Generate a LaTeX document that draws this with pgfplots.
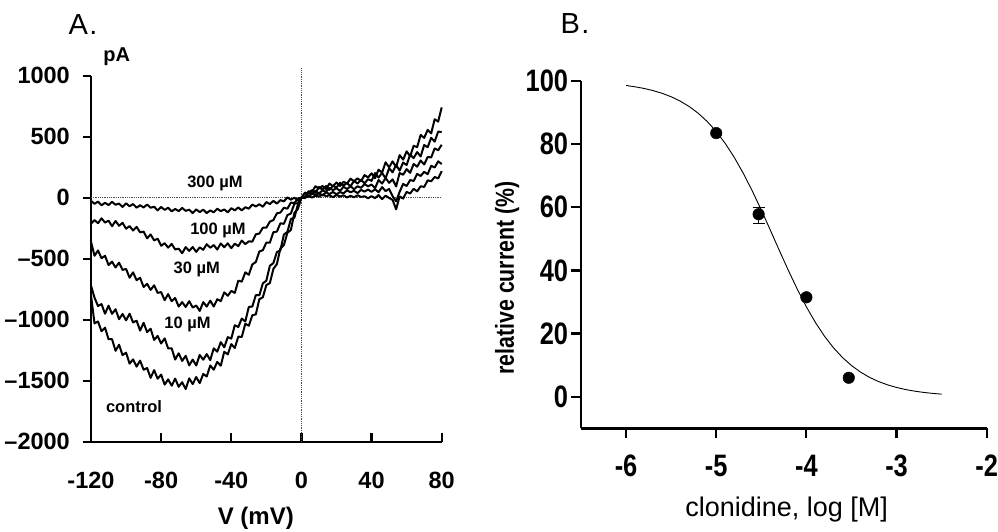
\documentclass[border=0pt]{standalone}
\usepackage{fontspec}
\setmainfont{Liberation Sans}
\newfontfamily\narrowfont[FakeStretch=0.82]{Liberation Sans}
\usepackage{pgfplots}
\pgfplotsset{compat=1.18}

\begin{document}
\begin{tikzpicture}
\path[use as bounding box] (0,0) rectangle (998pt,531pt);

\node[font=\fontsize{29}{29}\selectfont] at (83pt,506pt) {A\kern1.5pt.};
\node[font=\fontsize{29}{29}\selectfont] at (575pt,507.7pt) {B\kern1.5pt.};

% panel A: I-V traces
\begin{axis}[
  at={(91pt,89.3pt)}, anchor=south west,
  scale only axis, width=350.7pt, height=366pt,
  xmin=-120, xmax=80, ymin=-2000, ymax=1000,
  axis lines*=left,
  axis line style={line width=2.4pt},
  tick align=inside,
  major tick length=8.5pt,
  every tick/.style={black, line width=2.2pt},
  ytick style={xshift=-8.5pt},
  xtick={-120,-80,-40,0,40,80},
  xticklabels={-120,-80,-40,0,40,80},
  ytick={-2000,-1500,-1000,-500,0,500,1000},
  yticklabels={–2000,–1500,–1000,–500,0,500,1000},
  tick label style={font=\fontsize{23.5}{23.5}\selectfont\bfseries, inner sep=0pt},
  xticklabel style={anchor=north, yshift=-30pt},
  yticklabel style={anchor=east, xshift=-21pt},
  clip=false,
]
\addplot[densely dotted, line width=0.8pt, black!70] coordinates {(-120,0) (80,0)};
\addplot[densely dotted, line width=0.8pt, black!70] coordinates {(0,-2000) (0,1068)};

% control
\addplot[black, line width=2pt, line join=round] coordinates {
(-120,-800)(-118,-1030)(-116,-1015)(-114,-1095)(-112,-1065)(-110,-1160)(-108,-1160)(-106,-1255)(-104,-1205)(-102,-1290)
(-100,-1270)(-98,-1360)(-96,-1325)(-94,-1385)(-92,-1335)(-90,-1410)(-88,-1396)(-86,-1477)(-84,-1413)(-82,-1484)
(-80,-1450)(-78,-1532)(-76,-1489)(-74,-1541)(-72,-1483)(-70,-1550)(-68,-1512)(-66,-1569)(-64,-1481)(-62,-1528)
(-60,-1470)(-58,-1520)(-56,-1445)(-54,-1465)(-52,-1375)(-50,-1410)(-48,-1346)(-46,-1377)(-44,-1263)(-42,-1284)
(-40,-1200)(-38,-1232)(-36,-1139)(-34,-1141)(-32,-1033)(-30,-1050)(-28,-964)(-26,-956)(-24,-832)(-22,-816)
(-20,-716)(-18,-700)(-16,-584)(-14,-544)(-12,-416)(-10,-388)(-8,-288)(-6,-264)(-4,-124)(-2,-92)
(0,0)(2,5)(4,53)(6,48)(8,94)(10,75)(12,96)(14,70)(16,116)(18,94)
(20,125)(22,96)(24,130)(26,116)(28,156)(30,135)(32,159)(34,136)(36,185)(38,166)
(40,200)(42,160)(44,230)(46,205)(48,290)(50,250)(52,298)(54,251)(56,349)(58,312)
(60,380)(62,340)(64,425)(66,415)(68,515)(70,490)(72,556)(74,527)(76,643)(78,624)(80,740)};

% 10 uM
\addplot[black, line width=2pt, line join=round] coordinates {
(-120,-720)(-118,-819)(-116,-888)(-114,-872)(-112,-951)(-110,-885)(-108,-952)(-106,-914)(-104,-996)(-102,-953)
(-100,-1005)(-98,-951)(-96,-1022)(-94,-1008)(-92,-1089)(-90,-1025)(-88,-1102)(-86,-1074)(-84,-1166)(-82,-1133)
(-80,-1195)(-78,-1153)(-76,-1236)(-74,-1234)(-72,-1327)(-70,-1275)(-68,-1338)(-66,-1296)(-64,-1374)(-62,-1327)
(-60,-1375)(-58,-1289)(-56,-1328)(-54,-1282)(-52,-1331)(-50,-1235)(-48,-1262)(-46,-1184)(-44,-1226)(-42,-1143)
(-40,-1155)(-38,-1045)(-36,-1060)(-34,-990)(-32,-1015)(-30,-895)(-28,-892)(-26,-798)(-24,-800)(-22,-702)
(-20,-680)(-18,-558)(-16,-536)(-14,-446)(-12,-432)(-10,-302)(-8,-280)(-6,-174)(-4,-164)(-2,-54)
(0,0)(2,42)(4,33)(6,62)(8,40)(10,88)(12,65)(14,95)(16,65)(18,98)
(20,83)(22,122)(24,100)(26,120)(28,93)(30,138)(32,116)(34,147)(36,118)(38,152)
(40,138)(42,202)(44,165)(46,204)(48,158)(50,242)(52,208)(54,269)(56,222)(58,288)
(60,268)(62,352)(64,325)(66,374)(68,338)(70,432)(72,414)(74,491)(76,460)(78,542)(80,538)};

% 30 uM
\addplot[black, line width=2pt, line join=round] coordinates {
(-120,-360)(-118,-476)(-116,-432)(-114,-496)(-112,-476)(-110,-552)(-108,-524)(-106,-572)(-104,-532)(-102,-592)
(-100,-584)(-98,-656)(-96,-612)(-94,-676)(-92,-656)(-90,-732)(-88,-706)(-86,-756)(-84,-718)(-82,-780)
(-80,-774)(-78,-840)(-76,-790)(-74,-848)(-72,-822)(-70,-892)(-68,-856)(-66,-896)(-64,-848)(-62,-900)
(-60,-884)(-58,-928)(-56,-856)(-54,-892)(-52,-844)(-50,-892)(-48,-832)(-46,-848)(-44,-776)(-42,-804)
(-40,-764)(-38,-780)(-36,-680)(-34,-688)(-32,-612)(-30,-632)(-28,-547)(-26,-527)(-24,-441)(-22,-430)
(-20,-368)(-18,-369)(-16,-283)(-14,-278)(-12,-210)(-10,-214)(-8,-143)(-6,-129)(-4,-49)(-2,-44)
(0,0)(2,-3)(4,41)(6,29)(8,56)(10,34)(12,60)(14,48)(16,80)(18,62)
(20,78)(22,55)(24,90)(26,71)(28,94)(30,69)(32,94)(34,81)(36,112)(38,93)
(40,108)(42,78)(44,145)(46,116)(48,161)(50,122)(52,150)(54,92)(56,202)(58,188)
(60,234)(62,204)(64,277)(66,254)(68,305)(70,272)(72,334)(74,330)(76,404)(78,389)(80,434)};

% 100 uM
\addplot[black, line width=2pt, line join=round] coordinates {
(-120,-214)(-118,-183)(-116,-209)(-114,-169)(-112,-204)(-110,-188)(-108,-233)(-106,-191)(-104,-230)(-102,-206)
(-100,-254)(-98,-233)(-96,-269)(-94,-239)(-92,-284)(-90,-278)(-88,-333)(-86,-301)(-84,-350)(-82,-336)
(-80,-394)(-78,-373)(-76,-409)(-74,-379)(-72,-424)(-70,-418)(-68,-455)(-66,-405)(-64,-436)(-62,-404)
(-60,-444)(-58,-407)(-56,-427)(-54,-381)(-52,-410)(-50,-388)(-48,-425)(-46,-375)(-44,-406)(-42,-374)
(-40,-414)(-38,-377)(-36,-397)(-34,-351)(-32,-380)(-30,-358)(-28,-360)(-26,-300)(-24,-294)(-22,-246)
(-20,-246)(-18,-196)(-16,-184)(-14,-128)(-12,-122)(-10,-82)(-8,-90)(-6,-40)(-4,-44)(-2,-6)
(0,0)(2,12)(4,7)(6,35)(8,23)(10,36)(12,18)(14,44)(16,30)(18,47)
(20,28)(22,46)(24,36)(26,60)(28,45)(30,56)(32,38)(34,64)(36,50)(38,67)
(40,48)(42,69)(44,45)(46,87)(48,54)(50,72)(52,13)(54,-30)(56,48)(58,113)
(60,96)(62,145)(64,137)(66,195)(68,178)(70,212)(72,193)(74,261)(76,248)(78,298)(80,276)};

% 300 uM
\addplot[black, line width=2pt, line join=round] coordinates {
(-120,-26)(-118,-50)(-116,-32)(-114,-62)(-112,-42)(-110,-60)(-108,-34)(-106,-58)(-104,-48)(-102,-76)
(-100,-46)(-98,-70)(-96,-52)(-94,-82)(-92,-62)(-90,-80)(-88,-56)(-86,-82)(-84,-74)(-82,-104)
(-80,-76)(-78,-100)(-76,-82)(-74,-112)(-72,-92)(-70,-110)(-68,-84)(-66,-108)(-64,-98)(-62,-126)
(-60,-96)(-58,-118)(-56,-98)(-54,-126)(-52,-104)(-50,-120)(-48,-90)(-46,-110)(-44,-96)(-42,-120)
(-40,-86)(-38,-104)(-36,-80)(-34,-104)(-32,-78)(-30,-90)(-28,-56)(-26,-72)(-24,-54)(-22,-74)
(-20,-36)(-18,-52)(-16,-26)(-14,-48)(-12,-20)(-10,-30)(-8,2)(-6,-16)(-4,0)(-2,-22)
(0,0)(2,-1)(4,15)(6,1)(8,17)(10,9)(12,26)(14,13)(16,20)(18,4)
(20,23)(22,9)(24,20)(26,2)(28,15)(30,4)(32,20)(34,6)(36,12)(38,-5)
(40,13)(42,-4)(44,22)(46,-12)(48,17)(50,-2)(52,-18)(54,-95)(56,10)(58,-7)
(60,48)(62,34)(64,73)(66,52)(68,94)(70,88)(72,142)(74,135)(76,170)(78,158)(80,218)};

\node[font=\fontsize{16.5}{16.5}\selectfont\bfseries] at (axis cs:-49.3,119) {300 µM};
\node[font=\fontsize{16.5}{16.5}\selectfont\bfseries] at (axis cs:-47.6,-265) {100 µM};
\node[font=\fontsize{16.5}{16.5}\selectfont\bfseries] at (axis cs:-59.7,-590) {30 µM};
\node[font=\fontsize{16.5}{16.5}\selectfont\bfseries] at (axis cs:-65,-1041) {10 µM};
\node[font=\fontsize{16.5}{16.5}\selectfont\bfseries] at (axis cs:-95.5,-1714) {control};
\node[font=\fontsize{20}{20}\selectfont\bfseries] at (axis cs:-105.3,1158) {pA};
\node[font=\fontsize{24}{24}\selectfont\bfseries] at (axis description cs:0.47,-0.209) {V (mV)};
\end{axis}

% panel B: concentration-response
\begin{axis}[
  at={(581pt,102.7pt)}, anchor=south west,
  scale only axis, width=405.7pt, height=347.3pt,
  xmin=-6.5, xmax=-2, ymin=-10, ymax=100,
  axis lines*=left,
  axis line style={line width=2.4pt},
  tick align=inside,
  major tick length=10pt,
  every tick/.style={black, line width=2.2pt},
  xtick style={yshift=-10pt},
  ytick style={xshift=-10pt},
  xtick={-6,-5,-4,-3,-2},
  xticklabels={-6,-5,-4,-3,-2},
  ytick={0,20,40,60,80,100},
  yticklabels={0,20,40,60,80,100},
  tick label style={font=\narrowfont\bfseries\fontsize{31}{31}\selectfont, inner sep=0pt},
  xticklabel style={anchor=north, yshift=-26.7pt},
  yticklabel style={anchor=east, xshift=-12.7pt},
  clip=false,
]
\addplot[black, line width=0.9pt] coordinates {
(-6.0,98.58)(-5.9,98.16)(-5.8,97.64)(-5.7,96.96)(-5.6,96.10)(-5.5,95.01)(-5.4,93.64)(-5.3,91.92)
(-5.2,89.79)(-5.1,87.17)(-5.0,84.00)(-4.9,80.22)(-4.8,75.81)(-4.7,70.77)(-4.6,65.17)(-4.5,59.11)
(-4.4,52.76)(-4.3,46.32)(-4.2,40.01)(-4.1,34.00)(-4.0,28.47)(-3.9,23.52)(-3.8,19.20)(-3.7,15.52)
(-3.6,12.43)(-3.5,9.88)(-3.4,7.81)(-3.3,6.14)(-3.2,4.81)(-3.1,3.76)(-3.0,2.93)(-2.9,2.28)
(-2.8,1.77)(-2.7,1.37)(-2.6,1.06)(-2.5,0.82)};
\addplot[only marks, mark=*, mark size=5.8pt, black] coordinates {(-5,83.5) (-4,31.5) (-3.53,6.0)};
\addplot[only marks, mark=*, mark size=5.8pt, black,
  error bars/.cd, y dir=both, y explicit,
  error bar style={line width=1pt, black},
  error mark options={rotate=90, mark size=6pt, line width=1pt, black}]
  coordinates {(-4.53,57.8) += (0,2.2) -= (0,2.8)};

\node[rotate=90, font=\narrowfont\bfseries\fontsize{26}{26}\selectfont] at (axis description cs:-0.182,0.433) {relative current (\%)};
\node[font=\fontsize{27}{27}\selectfont] at (axis description cs:0.507,-0.235) {clonidine, log [M]};
\end{axis}
\end{tikzpicture}
\end{document}
